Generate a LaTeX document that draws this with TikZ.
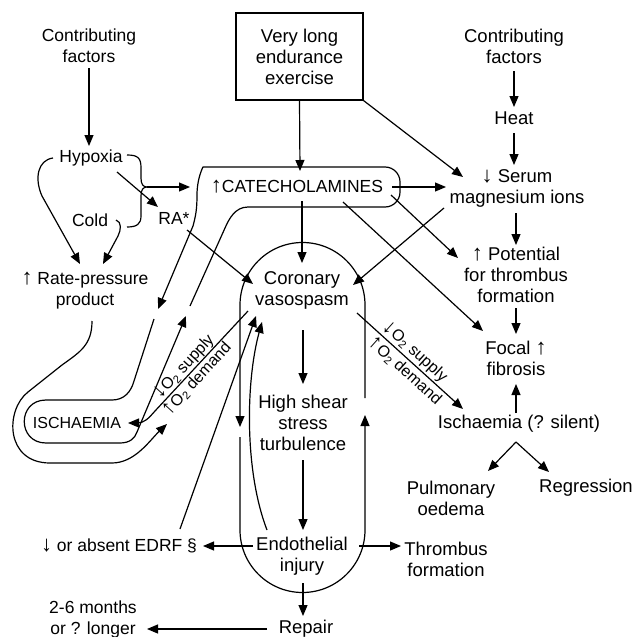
\documentclass[tikz,border=0pt]{standalone}
\usepackage{fontspec}
\setmainfont{Liberation Sans}
\usetikzlibrary{arrows.meta}
\newcommand\ua{{\fontsize{22}{16}\selectfont ↑}}
\newcommand\da{{\fontsize{22}{16}\selectfont ↓}}
\newcommand\fsL{\fontsize{17.5}{21}\selectfont}
\newcommand\fsR{\fontsize{18.5}{21}\selectfont}
\newcommand\fsO{\fontsize{16}{18}\selectfont}
\tikzset{
  lbl/.style={align=center, inner sep=0pt, font=\fsR},
  lblL/.style={lbl, font=\fsL},
  olbl/.style={lbl, font=\fsO},
  con/.style={line width=1.2pt, line join=round},
  arr/.style={con, -{Triangle[length=11pt,width=9pt]}},
}
\begin{document}
\begin{tikzpicture}[x=1pt,y=-1pt]
\useasboundingbox (0,0) rectangle (636,637);
\fill[white] (0,0) rectangle (636,637);

% ---------- nodes ----------
\node[lblL] (cf1) at (89,46) {Contributing\\factors};
\node[lbl, draw, line width=1.2pt, minimum width=127pt, minimum height=87pt] (vle) at (299.5,56.5) {Very long\\endurance\\exercise};
\node[lbl] (cf2) at (514,46) {Contributing\\factors};
\node[lbl] (heat) at (514,118) {Heat};
\node[lbl] (serum) at (517,188) {\da\ Serum\\magnesium ions};
\node[lbl] (pot) at (516,275) {\ua\ Potential\\for thrombus\\formation};
\node[lbl] (focal) at (516,358) {Focal \ua\\fibrosis};
\node[lbl] (isch2) at (519,424) {Ischaemia (? silent)};
\node[lbl] (pulm) at (451,498) {Pulmonary\\oedema};
\node[lbl] (regr) at (586,488) {Regression};
\node[lbl] (thr) at (446,559) {Thrombus\\formation};
\node[lbl] (endo) at (302,556) {Endothelial\\injury};
\node[lblL] (edrf) at (119,546) {\da\ or absent EDRF §};
\node[lblL] (months) at (93,619) {2-6 months\\or ? longer};
\node[lbl] (repair) at (306,629) {Repair};
\node[lbl, font=\fontsize{16}{18}\selectfont] (isch1) at (77,423) {ISCHAEMIA};
\node[lblL] (rpp) at (85,291) {\ua\ Rate-pressure\\product};
\node[lblL] (hyp) at (91,158) {Hypoxia};
\node[lblL] (cold) at (90,220) {Cold};
\node[lblL] (ra) at (174,218) {RA*};
\node[lblL] (cat) at (297,187) {\ua CATECHOLAMINES};
\node[lbl] (cv) at (302,290) {Coronary\\vasospasm};
\node[lbl] (hss) at (303,423) {High shear\\stress\\turbulence};

\node[olbl, rotate=47.6] (o2sL) at (184,367) {\da O\textsubscript{2} supply};
\node[olbl, rotate=47.6] (o2dL) at (197,379) {\ua O\textsubscript{2} demand};
\node[olbl, rotate=-42] (o2sR) at (415,352) {\da O\textsubscript{2} supply};
\node[olbl, rotate=-42] (o2dR) at (405,371) {\ua O\textsubscript{2} demand};

% ---------- connectors ----------
\draw[arr] (89,68) -- (89,146);
\draw[arr] (53,158) .. controls (38,160) and (34,178) .. (42,196) -- (80,264);
\draw[arr] (116,220) .. controls (122,222) and (121,230) .. (118,236) -- (103,264);
% brace
\draw[con] (127,155) .. controls (138,155) and (141,158) .. (141,168) -- (141,178)
  .. controls (141,184) and (143,187) .. (147,187)
  .. controls (143,187) and (141,190) .. (141,196) -- (141,216)
  .. controls (141,224) and (137,227) .. (127,227);
\draw[arr] (147,187) -- (190,187);
\draw[arr] (117,172) -- (158,207);
\draw[arr] (187,230) -- (253,284);
\draw[arr] (vle.south) -- (300,171);
\draw[arr] (vle.south east) -- (463,177);
\draw[arr] (392,187) -- (446,187);
\draw[arr] (391,195) -- (458,258);
\draw[arr] (343,202) -- (483,331);
\draw[arr] (444,208) -- (353,285);
\draw[arr] (302,201) -- (302,263);
\draw[arr] (514,71) -- (514,107);
\draw[arr] (514,133) -- (514,165);
\draw[arr] (516,213) -- (516,245);
\draw[arr] (516,308) -- (516,334);
\draw[arr] (516,413) -- (516,384);
\draw[arr] (516,442) -- (488,471);
\draw[arr] (516,442) -- (549,472);
\draw[arr] (303,330) -- (303,384);
\draw[arr] (303,460) -- (303,530);
\draw[arr] (303,583) -- (303,616);
\draw[arr] (267,629) -- (147,629);
\draw[arr] (253,546) -- (203,546);
\draw[arr] (359,546) -- (401,546);
\draw[arr] (180,529) -- (256,316);
\draw[arr] (267,530) .. controls (244,470) and (246,380) .. (262,322);
\draw[arr] (248,311) -- (155,411) .. controls (148,419) and (144,423) .. (137,423) -- (128,423);
\draw[arr] (357,313) -- (463,409);
% outer loop from rate-pressure product
\draw[arr] (92,321) .. controls (92,345) and (80,352) .. (62,365) -- (28,392)
  .. controls (5,410) and (5,463) .. (50,463) -- (112,463)
  .. controls (135,463) and (150,440) .. (167,424);
% inner loop (catecholamines / ischaemia)
\draw[arr] (190,306) -- (225,228) .. controls (229,219) and (235,207) .. (248,207)
  {[rounded corners=15pt] -- (400,207) -- (400,167) -- (218,167)}
  .. controls (203,167) and (197,178) .. (197,195)
  .. controls (197,208) and (196,215) .. (193,226) -- (158,309);
\draw[arr] (154,319) -- (134,381) .. controls (131,392) and (124,400) .. (112,400) -- (46,400)
  .. controls (17,400) and (17,443) .. (46,443) -- (120,443)
  .. controls (130,443) and (135,438) .. (137,432) -- (186,316);
% central loop
\draw[arr] (365,398) -- (365,305) arc[start angle=0, end angle=-180, radius=62.5] -- (240,427);
\draw[arr] (240,437) -- (240,530) arc[start angle=180, end angle=0, radius=62.5] -- (365,415);
\end{tikzpicture}
\end{document}
